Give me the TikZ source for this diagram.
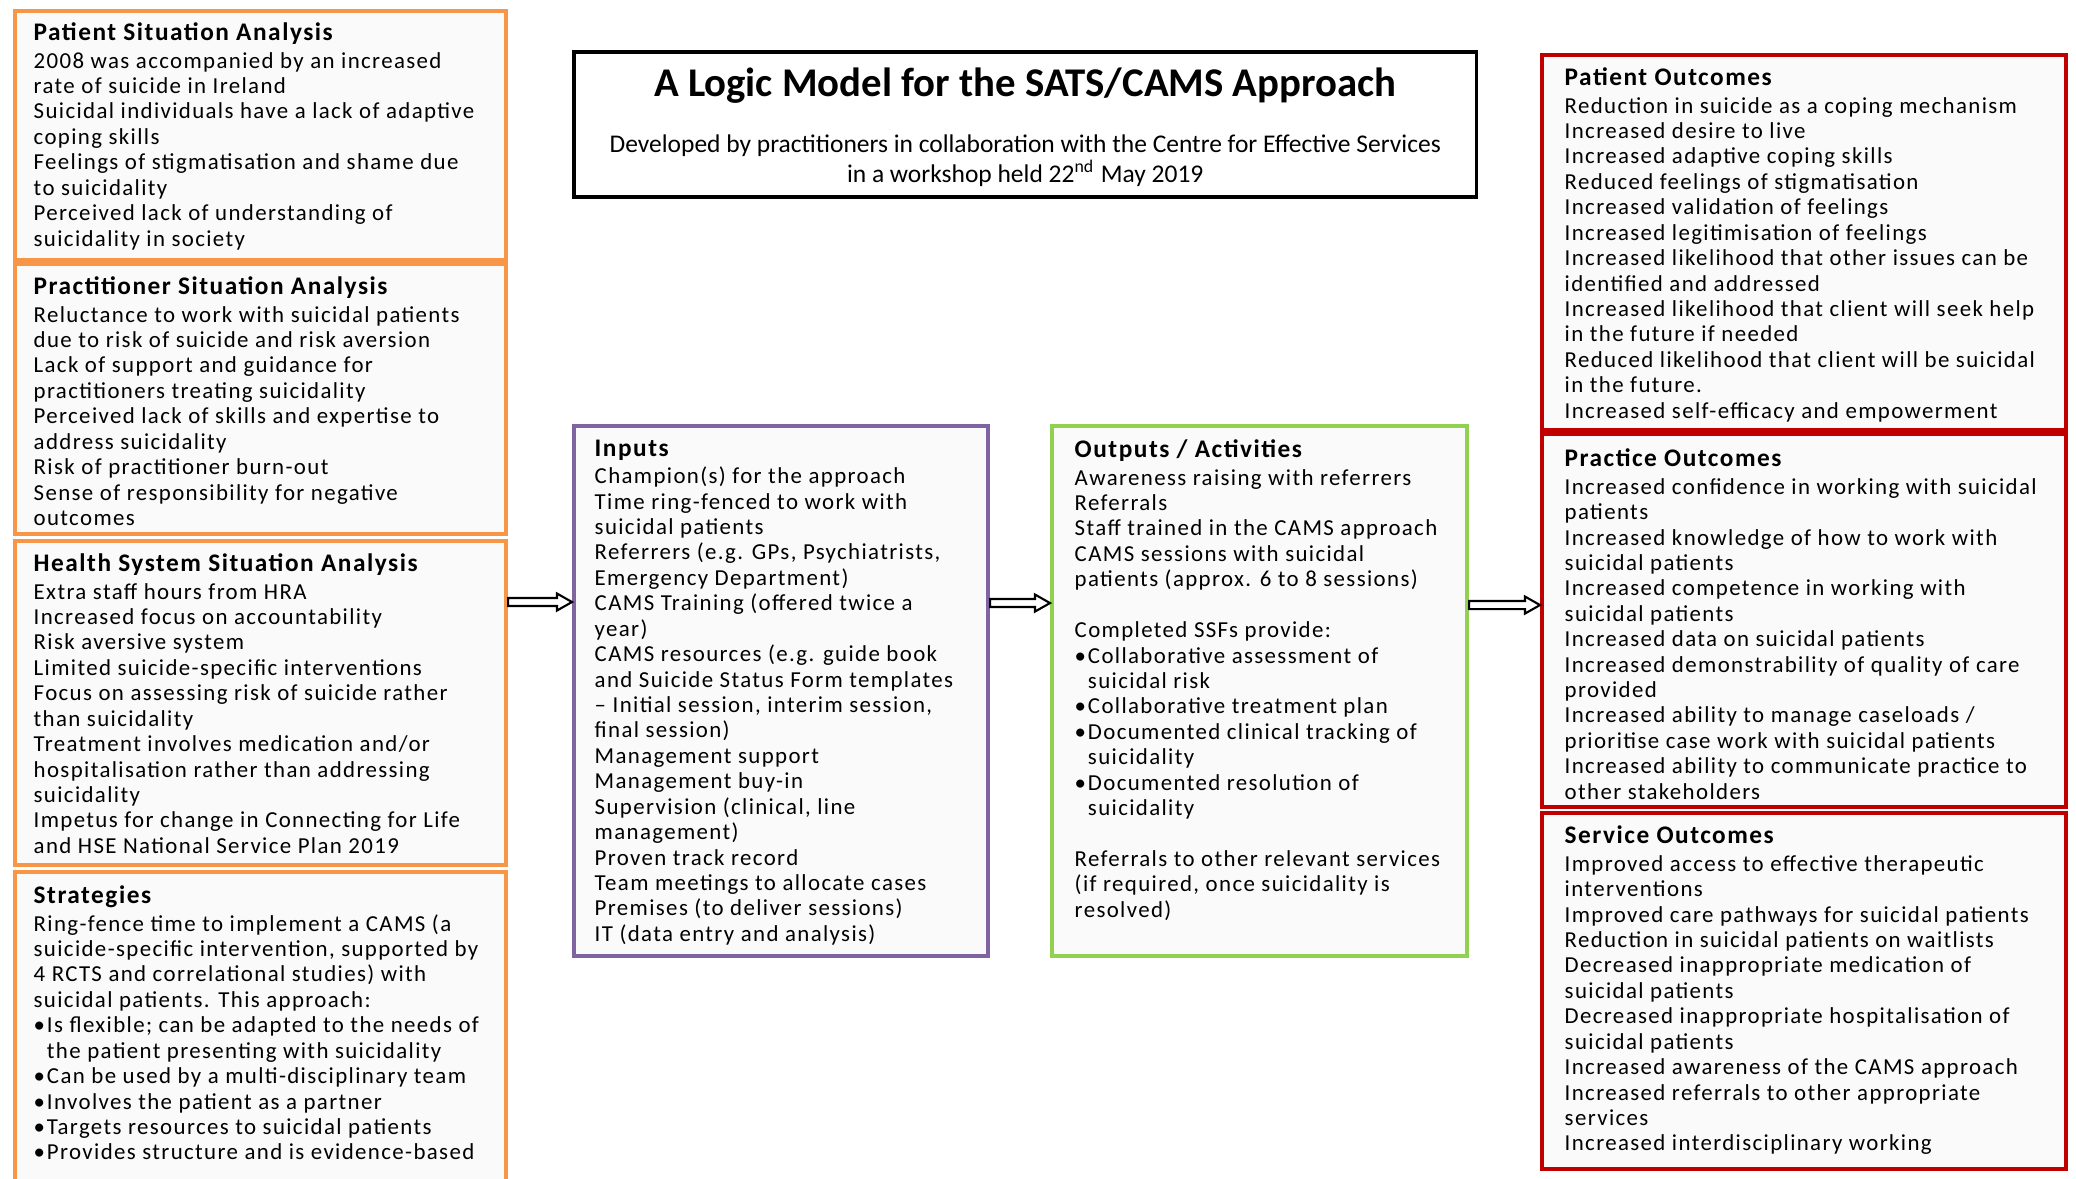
\documentclass[tikz,border=0pt]{standalone}
\usepackage{fontspec}
\setmainfont{Carlito}[LetterSpace=6]
\newfontfamily\plainfont{Carlito}
\usetikzlibrary{positioning,calc}
\definecolor{orangeline}{HTML}{F79646}
\definecolor{purpleline}{HTML}{8064A2}
\definecolor{greenline}{HTML}{92D050}
\definecolor{redline}{HTML}{C00000}
\tikzset{
    panel/.style={
        draw, line width=1.1pt, fill=black!2, anchor=north west, inner sep=0pt
    },
    sitpanel/.style={
        panel, draw=orangeline, minimum width=4.91cm
    },
    outpanel/.style={
        panel, draw=redline, minimum width=5.24cm
    },
    paneltext/.style={
        anchor=north west, inner sep=0pt, align=left,
        font=\fontsize{6.5}{7.23}\selectfont
    },
    hollow/.style={
        draw=black, line width=0.6pt, fill=white,
        to path={
            let \p1=(\tikztostart), \p2=(\tikztotarget) in
            (\x1, \y1+0.04cm) -- (\x2-0.15cm, \y1+0.04cm) -- (\x2-0.15cm, \y1+0.085cm)
            -- (\x2, \y1) -- (\x2-0.15cm, \y1-0.085cm) -- (\x2-0.15cm, \y1-0.04cm)
            -- (\x1, \y1-0.04cm) -- cycle
        }
    }
}
\newcommand{\panelhead}[1]{{\fontsize{7.2}{7.23}\selectfont\bfseries #1}\\[0.6pt]}
\newcommand{\bul}{\makebox[0.58em][l]{\textbullet}}
\newcommand{\bulindent}{\hspace*{0.58em}}

\begin{document}
\begin{tikzpicture}[x=0.01cm, y=-0.01cm]
    \useasboundingbox[fill=white] (0,0) rectangle (2076,1178);
    % Situation analysis:
    \node[sitpanel, minimum height=2.49cm] (psa) at (13,9) {};
    \node[sitpanel, minimum height=2.70cm, below=0cm of psa.south west, anchor=north west] (pra) {};
    \node[sitpanel, minimum height=3.24cm, below=0.03cm of pra.south west, anchor=north west] (hsa) {};
    \node[sitpanel, minimum height=3.30cm, below=0.03cm of hsa.south west, anchor=north west] (strat) {};
    \node[paneltext] (psa-t) at ([shift={(0.2cm,-0.13cm)}]psa.north west) {\panelhead{Patient Situation Analysis}
        2008 was accompanied by an increased\\ rate of suicide in Ireland\\
        Suicidal individuals have a lack of adaptive\\ coping skills\\
        Feelings of stigmatisation and shame due\\ to suicidality\\
        Perceived lack of understanding of\\ suicidality in society};
    \node[paneltext] (pra-t) at ([shift={(0.2cm,-0.14cm)}]pra.north west) {\panelhead{Practitioner Situation Analysis}
        Reluctance to work with suicidal patients\\ due to risk of suicide and risk aversion\\
        Lack of support and guidance for\\ practitioners treating suicidality\\
        Perceived lack of skills and expertise to\\ address suicidality\\
        Risk of practitioner burn-out\\
        Sense of responsibility for negative\\ outcomes};
    \node[paneltext] (hsa-t) at ([shift={(0.2cm,-0.14cm)}]hsa.north west) {\panelhead{Health System Situation Analysis}
        Extra staff hours from HRA\\
        Increased focus on accountability\\
        Risk aversive system\\
        Limited suicide-specific interventions\\
        Focus on assessing risk of suicide rather\\ than suicidality\\
        Treatment involves medication and/or\\ hospitalisation rather than addressing\\ suicidality\\
        Impetus for change in Connecting for Life\\ and HSE National Service Plan 2019};
    \node[paneltext] (strat-t) at ([shift={(0.2cm,-0.15cm)}]strat.north west) {\panelhead{Strategies}
        Ring-fence time to implement a CAMS (a\\ suicide-specific intervention, supported by\\
        4 RCTS and correlational studies) with\\ suicidal patients. This approach:\\
        \bul Is flexible; can be adapted to the needs of\\ \bulindent the patient presenting with suicidality\\
        \bul Can be used by a multi-disciplinary team\\
        \bul Involves the patient as a partner\\
        \bul Targets resources to suicidal patients\\
        \bul Provides structure and is evidence-based};
    % Title:
    \node[panel, draw=black, fill=white, minimum width=9.02cm, minimum height=1.45cm] (title) at (572,50) {};
    \node[anchor=north, inner sep=0pt, align=center, font=\plainfont\fontsize{7.25}{8.5}\selectfont] (title-t)
        at ([yshift=-0.17cm]title.north) {{\fontsize{11.6}{14}\selectfont\bfseries A Logic Model for the SATS/CAMS Approach}\\[7.6pt]
        Developed by practitioners in collaboration with the Centre for Effective Services\\
        in a workshop held 22\textsuperscript{nd} May 2019};
    % Inputs and outputs:
    \node[panel, draw=purpleline, minimum width=4.14cm, minimum height=5.30cm] (inputs) at (572,424) {};
    \node[panel, draw=greenline, minimum width=4.15cm, minimum height=5.30cm] (outputs) at (1050,424) {};
    \node[paneltext] (inputs-t) at ([shift={(0.22cm,-0.15cm)}]inputs.north west) {\panelhead{Inputs}
        Champion(s) for the approach\\
        Time ring-fenced to work with\\ suicidal patients\\
        Referrers (e.g. GPs, Psychiatrists,\\ Emergency Department)\\
        CAMS Training (offered twice a\\ year)\\
        CAMS resources (e.g. guide book\\ and Suicide Status Form templates\\
        -- Initial session, interim session,\\ final session)\\
        Management support\\
        Management buy-in\\
        Supervision (clinical, line\\ management)\\
        Proven track record\\
        Team meetings to allocate cases\\
        Premises (to deliver sessions)\\
        IT (data entry and analysis)};
    \node[paneltext] (outputs-t) at ([shift={(0.24cm,-0.15cm)}]outputs.north west) {\panelhead{Outputs / Activities}
        Awareness raising with referrers\\
        Referrals\\
        Staff trained in the CAMS approach\\
        CAMS sessions with suicidal\\ patients (approx. 6 to 8 sessions)\\[7.23pt]
        Completed SSFs provide:\\
        \bul Collaborative assessment of\\ \bulindent suicidal risk\\
        \bul Collaborative treatment plan\\
        \bul Documented clinical tracking of\\ \bulindent suicidality\\
        \bul Documented resolution of\\ \bulindent suicidality\\[7.23pt]
        Referrals to other relevant services\\
        (if required, once suicidality is\\ resolved)};
    % Outcomes:
    \node[outpanel, minimum height=3.75cm] (pao) at (1540,53) {};
    \node[outpanel, minimum height=3.73cm, below=0cm of pao.south west, anchor=north west] (pro) {};
    \node[outpanel, minimum height=3.56cm, below=0.02cm of pro.south west, anchor=north west] (svo) {};
    \node[paneltext] (pao-t) at ([shift={(0.24cm,-0.14cm)}]pao.north west) {\panelhead{Patient Outcomes}
        Reduction in suicide as a coping mechanism\\
        Increased desire to live\\
        Increased adaptive coping skills\\
        Reduced feelings of stigmatisation\\
        Increased validation of feelings\\
        Increased legitimisation of feelings\\
        Increased likelihood that other issues can be\\ identified and addressed\\
        Increased likelihood that client will seek help\\ in the future if needed\\
        Reduced likelihood that client will be suicidal\\ in the future.\\
        Increased self-efficacy and empowerment};
    \node[paneltext] (pro-t) at ([shift={(0.24cm,-0.16cm)}]pro.north west) {\panelhead{Practice Outcomes}
        Increased confidence in working with suicidal\\ patients\\
        Increased knowledge of how to work with\\ suicidal patients\\
        Increased competence in working with\\ suicidal patients\\
        Increased data on suicidal patients\\
        Increased demonstrability of quality of care\\ provided\\
        Increased ability to manage caseloads /\\ prioritise case work with suicidal patients\\
        Increased ability to communicate practice to\\ other stakeholders};
    \node[paneltext] (svo-t) at ([shift={(0.24cm,-0.14cm)}]svo.north west) {\panelhead{Service Outcomes}
        Improved access to effective therapeutic\\ interventions\\
        Improved care pathways for suicidal patients\\
        Reduction in suicidal patients on waitlists\\
        Decreased inappropriate medication of\\ suicidal patients\\
        Decreased inappropriate hospitalisation of\\ suicidal patients\\
        Increased awareness of the CAMS approach\\
        Increased referrals to other appropriate\\ services\\
        Increased interdisciplinary working};
    % Arrows:
    \draw[hollow] ([yshift=1.01cm]hsa.east) to ([yshift=0.88cm]inputs.west);
    \draw[hollow] ([yshift=0.88cm]inputs.east) to ([yshift=0.88cm]outputs.west);
    \draw[hollow] ([yshift=0.86cm]outputs.east) to ([yshift=0.15cm]pro.west);
\end{tikzpicture}
\end{document}
